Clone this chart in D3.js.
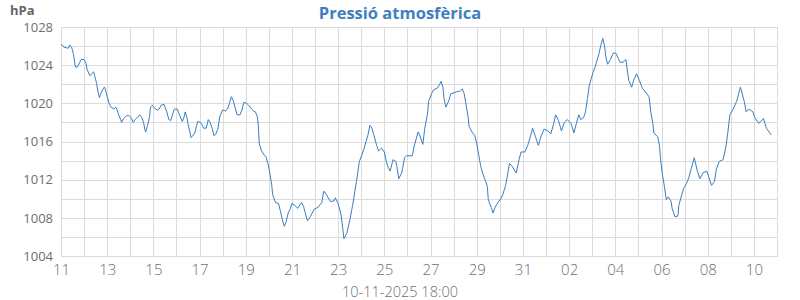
<!DOCTYPE html>
<html>
<head>
<meta charset="utf-8">
<script src="https://cdn.jsdelivr.net/npm/d3@7"></script>
<style>
  html, body { margin: 0; padding: 0; background: #fff; }
  svg { display: block; font-family: "Open Sans", sans-serif; }
</style>
</head>
<body>
<svg id="chart" width="800" height="300"></svg>
<script>
// ---- data ----
const title = "Pressió atmosfèrica";
const unitLabel = "hPa";
const xTitle = "10-11-2025 18:00";
const startUTC = Date.UTC(2025, 9, 11, 0, 0); // 11-10-2025 00:00
const endUTC = Date.UTC(2025, 10, 11, 0, 0);  // 11-11-2025 00:00

// hours since start
const hours = [0,3,6,8,9,11,13,15,17,18,21,24,26,27,30,32,34,35,37,38,40,41,43,45,46,48,50,52,55,57,58,60,62,63,65,68,71,73,75,77,80,82,84,86,87,88,90,92,93,95,97,100,102,104,107,108,110,112,114,117,118,121,123,126,128,129,131,132,134,135,137,139,141,142,145,147,148,151,153,155,157,159,161,163,165,167,168,171,173,175,177,179,181,183,186,188,190,193,195,198,200,202,204,205,206,208,211,213,215,217,219,220,223,226,228,230,232,234,236,238,240,243,246,250,252,256,259,263,267,271,273,276,280,284,285,288,291,293,294,297,300,303,307,310,313,315,317,319,321,323,325,328,330,333,336,338,340,342,345,348,349,351,354,355,357,359,365,367,371,373,376,378,381,382,385,387,391,393,395,397,398,400,403,405,411,415,417,419,421,423,424,427,430,432,434,436,438,441,443,444,447,449,451,454,457,459,462,464,466,469,471,473,476,478,482,485,488,490,493,496,499,502,506,509,512,514,517,520,523,526,530,533,535,538,540,543,545,547,549,551,553,555,557,559,561,563,565,566,568,571,574,577,579,581,584,587,588,590,593,595,598,601,604,608,611,613,615,616,620,622,623,625,627,629,631,634,635,638,641,642,645,647,650,652,655,658,661,664,667,671,673,676,679,681,684,688,691,693,695,698,702,706,710,712,715,719,721,725,730,733,738];

const pressure = [1026.2,1025.9,1025.8,1025.8,1026.1,1025.9,1025.1,1023.8,1023.8,1024.0,1024.6,1024.6,1024.2,1023.6,1022.9,1023.1,1023.3,1022.9,1022.1,1021.4,1020.6,1020.9,1021.4,1021.7,1021.5,1020.7,1020.0,1019.6,1019.4,1019.6,1019.4,1018.8,1018.3,1018.0,1018.4,1018.7,1018.7,1018.5,1018.0,1018.3,1018.6,1018.8,1018.5,1017.9,1017.3,1017.0,1017.7,1018.6,1019.6,1019.8,1019.5,1019.3,1019.4,1019.8,1019.9,1019.6,1019.1,1018.3,1018.2,1019.2,1019.4,1019.4,1018.8,1018.1,1018.6,1019.1,1018.5,1017.8,1017.0,1016.4,1016.6,1016.9,1017.7,1018.1,1018.0,1017.7,1017.4,1017.4,1018.3,1018.0,1017.4,1016.6,1016.8,1017.3,1018.6,1019.1,1019.3,1019.2,1019.4,1020.0,1020.7,1020.3,1019.5,1018.8,1018.8,1019.3,1020.1,1020.0,1019.8,1019.4,1019.2,1019.1,1018.6,1017.7,1015.8,1015.1,1014.6,1014.4,1013.7,1012.7,1011.4,1010.4,1009.6,1009.5,1008.7,1007.8,1007.1,1007.6,1008.5,1008.9,1009.5,1009.3,1009.0,1009.6,1009.2,1007.7,1008.1,1008.9,1009.1,1009.6,1010.8,1010.4,1009.7,1009.8,1010.1,1009.5,1008.3,1006.7,1005.8,1006.4,1007.7,1009.3,1011.8,1013.9,1014.7,1015.3,1016.0,1016.7,1017.7,1017.4,1016.7,1015.6,1015.0,1015.3,1014.9,1013.9,1013.3,1012.9,1014.1,1013.9,1013.4,1012.1,1012.7,1013.2,1014.3,1014.5,1014.5,1015.5,1017.0,1016.6,1015.7,1017.4,1019.0,1020.2,1021.0,1021.4,1021.6,1021.9,1022.3,1021.6,1020.5,1019.6,1020.3,1021.0,1021.2,1021.3,1021.5,1021.0,1019.8,1018.6,1017.6,1017.0,1016.6,1015.8,1014.6,1013.5,1012.7,1011.9,1011.3,1009.9,1009.1,1008.5,1009.1,1009.6,1010.0,1010.4,1011.4,1012.5,1013.7,1013.4,1013.0,1012.7,1014.1,1014.9,1014.9,1015.6,1016.6,1017.4,1016.5,1015.6,1016.6,1017.3,1017.1,1016.8,1017.9,1018.8,1018.2,1017.1,1018.0,1018.3,1017.9,1016.9,1017.7,1018.8,1018.3,1018.5,1019.1,1020.5,1021.9,1022.6,1023.3,1023.8,1024.5,1025.2,1026.1,1026.8,1025.9,1024.9,1024.1,1024.6,1025.3,1025.2,1024.7,1024.3,1024.3,1024.6,1023.8,1022.4,1021.7,1022.4,1023.1,1022.4,1021.6,1021.1,1020.7,1019.0,1017.9,1016.9,1016.5,1015.5,1014.1,1012.5,1011.3,1009.9,1010.2,1009.7,1009.0,1008.1,1008.2,1009.3,1010.4,1011.1,1011.6,1012.1,1013.2,1014.3,1013.0,1012.1,1012.7,1012.9,1012.3,1011.4,1011.8,1013.1,1013.9,1014.1,1015.5,1017.0,1018.8,1019.3,1020.2,1021.7,1020.2,1019.1,1019.4,1019.1,1018.5,1017.9,1018.4,1017.4,1016.7];

const yTicks = [1004, 1008, 1012, 1016, 1020, 1024, 1028];
const yGridStep = 2;
const xTickDays = [0,2,4,6,8,10,12,14,16,18,20,22,24,26,28,30];
const xTickLabels = ["11","13","15","17","19","21","23","25","27","29","31","02","04","06","08","10"];

// ---- drawing ----
const HOUR = 3600 * 1000, DAY = 24 * HOUR;
const data = hours.map((h, i) => ({ t: new Date(startUTC + h * HOUR), v: pressure[i] }));

const svg = d3.select("#chart");
const x = d3.scaleUtc().domain([new Date(startUTC), new Date(endUTC)]).range([61, 777]);
const y = d3.scaleLinear().domain([1004, 1028]).range([256, 27]);

const gridColor = "#dcdcdc";
const textColor = "#6e6e6e";

// vertical gridlines (every day)
const days = d3.utcDay.range(new Date(startUTC), new Date(endUTC + 1));
svg.append("g").selectAll("line").data(days).join("line")
  .attr("x1", d => Math.round(x(d)) + 0.5).attr("x2", d => Math.round(x(d)) + 0.5)
  .attr("y1", y(1028)).attr("y2", y(1004))
  .attr("stroke", gridColor).attr("stroke-width", 1);

// horizontal gridlines (every 2 hPa)
const hVals = d3.range(1004, 1028 + 0.001, yGridStep);
svg.append("g").selectAll("line").data(hVals).join("line")
  .attr("x1", x.range()[0]).attr("x2", x.range()[1] + 1)
  .attr("y1", d => Math.round(y(d)) + 0.5).attr("y2", d => Math.round(y(d)) + 0.5)
  .attr("stroke", gridColor).attr("stroke-width", 1);

// y axis labels
const yAxis = d3.axisLeft(y).tickValues(yTicks).tickSize(0).tickPadding(8).tickFormat(d3.format("d"));
const gy = svg.append("g").attr("transform", `translate(${x.range()[0]},0)`).call(yAxis);
gy.select(".domain").remove();
gy.selectAll("text").attr("fill", textColor).style("font-size", "13px").style("font-family", "'Open Sans', sans-serif");

// x axis labels
const xAxis = d3.axisBottom(x)
  .tickValues(xTickDays.map(d => new Date(startUTC + d * DAY)))
  .tickSize(0).tickPadding(8)
  .tickFormat((d, i) => xTickLabels[i]);
const gx = svg.append("g").attr("transform", `translate(0,${y(1004)})`).call(xAxis);
gx.select(".domain").remove();
gx.selectAll("text").attr("fill", textColor)
  .style("font-size", "15px").style("font-weight", "300")
  .style("font-family", "'Open Sans', sans-serif");

// line
const line = d3.line().x(d => x(d.t)).y(d => y(d.v));
svg.append("path").datum(data)
  .attr("d", line).attr("fill", "none")
  .attr("stroke", "#3a7ebf").attr("stroke-width", 1);

// titles
svg.append("text").attr("x", 400).attr("y", 19).attr("text-anchor", "middle")
  .attr("fill", "#3d7fbf").style("font-size", "16.5px").style("font-weight", "bold")
  .text(title);
svg.append("text").attr("x", 10).attr("y", 15)
  .attr("fill", "#666").style("font-size", "13px").style("font-weight", "bold")
  .text(unitLabel);
svg.append("text").attr("x", 400).attr("y", 297).attr("text-anchor", "middle")
  .attr("fill", textColor).style("font-size", "14.5px").style("font-weight", "300")
  .text(xTitle);
</script>
</body>
</html>
